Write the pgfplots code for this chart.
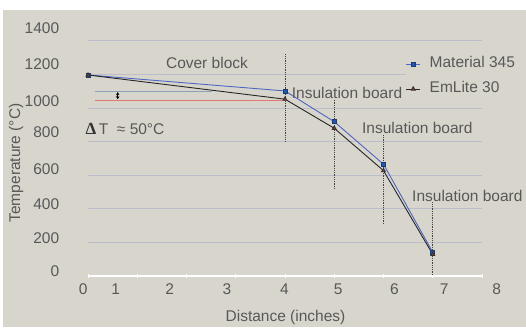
\documentclass[border=0pt]{standalone}
\usepackage{pgfplots}
\pgfplotsset{compat=1.18}
\usetikzlibrary{arrows.meta}
\usepackage{fontspec}
\setmainfont{Liberation Sans}
\newfontfamily\serifbf{Liberation Serif}
\definecolor{bg}{HTML}{D8D6CC}
\definecolor{txt}{HTML}{585858}
\definecolor{gridc}{HTML}{BBBDCB}
\definecolor{blueline}{HTML}{4F66C4}
\definecolor{bluemark}{HTML}{2456A6}
\definecolor{redmark}{HTML}{A83838}
\definecolor{refblue}{HTML}{8CA2B6}
\definecolor{refred}{HTML}{E07A70}
\definecolor{dotc}{HTML}{444444}
\begin{document}
\begin{tikzpicture}[x=1pt,y=1pt,font=\fontsize{15.5}{18}\selectfont]
\useasboundingbox (0,0) rectangle (526,327);
\fill[white] (0,0) rectangle (526,327);
\fill[bg] (3,0) rectangle (526,317);
\begin{axis}[
  at={(88pt,51pt)}, anchor=south west,
  scale only axis, width=394pt, height=235.3pt,
  xmin=0, xmax=8, ymin=0, ymax=1400,
  clip=false,
  axis x line*=bottom, axis y line*=left,
  y axis line style={draw=none},
  x axis line style={white, line width=1.2pt},
  xtick={0,...,8}, xticklabels={}, minor x tick num=4,
  xtick style={white, line width=0.8pt},
  major tick length=4pt, minor tick length=2.5pt,
  tick align=center,
  ytick={0,200,...,1400}, yticklabels={}, ytick style={draw=none},
  ymajorgrids, grid style={gridc, line width=0.8pt},
  legend style={at={(0.806,0.936)}, anchor=north west, fill=bg, draw=none,
    text=txt, font=\fontsize{15.5}{18}\selectfont, inner sep=0pt,
    nodes={inner sep=1pt, text height=11pt, text depth=3pt},
    row sep=9pt, column sep=8pt},
  legend cell align=left,
  legend image code/.code={\draw[mark repeat=2,mark phase=2,#1] plot coordinates {(0pt,0pt) (7pt,0pt) (14pt,0pt)};},
]
% reference lines
\addplot[refblue, line width=1pt, forget plot] coordinates {(0.14,1097) (2.51,1097)};
\addplot[refred, line width=0.8pt, forget plot] coordinates {(0.14,1046) (4,1046)};
% dotted boundaries
\addplot[dotc, densely dotted, line width=0.8pt, forget plot] coordinates {(4,1320) (4,796)};
\addplot[dotc, densely dotted, line width=0.8pt, forget plot] coordinates {(5,1048) (5,518)};
\addplot[dotc, densely dotted, line width=0.8pt, forget plot] coordinates {(6,839) (6,310)};
\addplot[dotc, densely dotted, line width=0.8pt, forget plot] coordinates {(7,439) (7,0)};
% series
\addplot[blueline, line width=0.9pt, mark=square*, mark size=2pt,
  mark options={fill=bluemark, draw=bluemark!70!black}]
  coordinates {(0,1196) (4,1101) (5,918) (6,665) (7,141)};
\addplot[black!85, line width=0.9pt, mark=triangle*, mark size=2.2pt,
  mark options={fill=redmark, draw=black!80}]
  coordinates {(0,1196) (4,1052) (5,879) (6,627) (7,129)};
\legend{Material 345, EmLite 30}
% annotation arrow
\draw[black, line width=0.8pt, {Stealth[length=3pt,width=3.5pt]}-{Stealth[length=3pt,width=3.5pt]}] (axis cs:0.603,1094) -- (axis cs:0.603,1052);
% text
\node[text=txt] at (axis cs:2.416,1268) {Cover block};
\node[anchor=west, text=txt] at (axis cs:-0.12,873) {{\serifbf\bfseries\fontsize{17}{18}\selectfont\color{black!80}Δ}\,T \ ≈ 50°C};
\node[anchor=west, text=txt, inner sep=0pt] at (axis cs:4.135,1088) {Insulation board};
\node[anchor=west, text=txt, inner sep=0pt] at (axis cs:5.563,879) {Insulation board};
\node[anchor=west, text=txt, inner sep=0pt] at (axis cs:6.579,474) {Insulation board};
% y tick labels
\node[anchor=east, text=txt] at (axis cs:-0.514,1474) {1400};
\node[anchor=east, text=txt] at (axis cs:-0.514,1262) {1200};
\node[anchor=east, text=txt] at (axis cs:-0.514,1042) {1000};
\node[anchor=east, text=txt] at (axis cs:-0.514,857) {800};
\node[anchor=east, text=txt] at (axis cs:-0.514,636) {600};
\node[anchor=east, text=txt] at (axis cs:-0.514,429) {400};
\node[anchor=east, text=txt] at (axis cs:-0.514,226) {200};
\node[anchor=east, text=txt] at (axis cs:-0.514,28) {0};
% x tick labels
\node[text=txt, yshift=-13.3pt] at (axis cs:-0.10,0) {0};
\node[text=txt, yshift=-13.3pt] at (axis cs:0.56,0) {1};
\node[text=txt, yshift=-13.3pt] at (axis cs:1.66,0) {2};
\node[text=txt, yshift=-13.3pt] at (axis cs:2.82,0) {3};
\node[text=txt, yshift=-13.3pt] at (axis cs:3.99,0) {4};
\node[text=txt, yshift=-13.3pt] at (axis cs:5.08,0) {5};
\node[text=txt, yshift=-13.3pt] at (axis cs:6.22,0) {6};
\node[text=txt, yshift=-13.3pt] at (axis cs:7.23,0) {7};
\node[text=txt, yshift=-13.3pt] at (axis cs:8.30,0) {8};
\end{axis}
\node[text=txt] at (285.5,10) {Distance (inches)};
\node[text=txt, rotate=90] at (16,164) {Temperature (°C)};
\end{tikzpicture}
\end{document}
